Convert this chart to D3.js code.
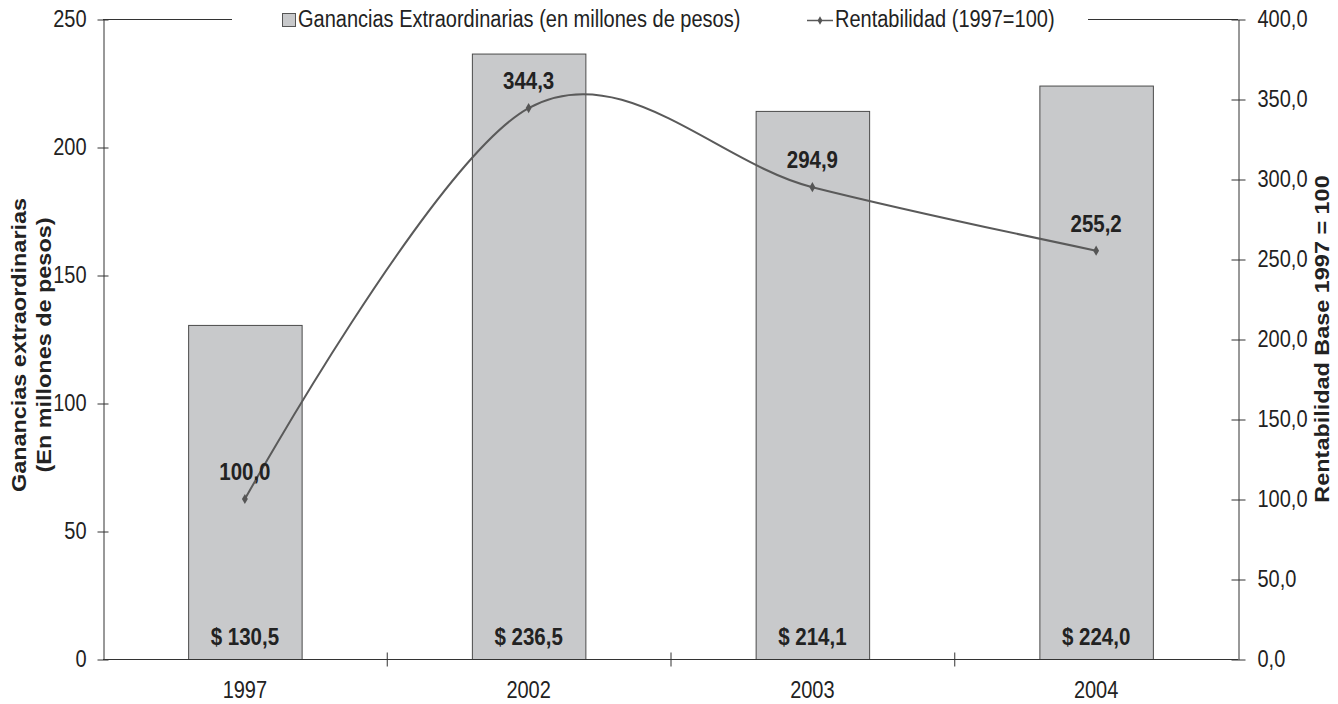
<!DOCTYPE html>
<html>
<head>
<meta charset="utf-8">
<script src="https://cdn.jsdelivr.net/npm/d3@7"></script>
<style>
  html, body { margin: 0; padding: 0; background: #fff; }
  svg { display: block; font-family: "Liberation Sans", Arial, sans-serif; }
</style>
</head>
<body>
<svg id="chart" width="1338" height="704"></svg>
<script>
// Years on the category axis
const years = ["1997", "2002", "2003", "2004"];
// Extraordinary profits, millions of pesos (bars, left axis)
const ganancias = [130.5, 236.5, 214.1, 224.0];
// Profitability index, 1997 = 100 (line, right axis)
const rentabilidad = [100.0, 344.3, 294.9, 255.2];
// Axis ticks
const leftTicks = [0, 50, 100, 150, 200, 250];
const rightTicks = [0, 50, 100, 150, 200, 250, 300, 350, 400];

const fmt1 = d3.format(".1f");
const comma = v => fmt1(v).replace(".", ",");

// Text is set slightly tall and narrow
const STRETCH = 1.15;
const TEXT = "#222";

const svg = d3.select("#chart");
const m = { left: 103, right: 1238, top: 19, bottom: 659 };

const x = d3.scaleBand().domain(years).range([m.left, m.right]).paddingInner(0.6).paddingOuter(0.3);
const xBand = d3.scaleBand().domain(years).range([m.left, m.right]);
const cx = d => xBand(d) + xBand.bandwidth() / 2;
const yL = d3.scaleLinear().domain([0, 250]).range([m.bottom, m.top]);
const yR = d3.scaleLinear().domain([0, 400]).range([m.bottom, m.top]);

function label(sel, px, py) {
  return sel.attr("x", 0).attr("y", 0)
    .attr("transform", (d, i) => `translate(${typeof px === "function" ? px(d, i) : px},${typeof py === "function" ? py(d, i) : py}) scale(1,${STRETCH})`);
}

// Top frame line of the plot area
svg.append("line")
  .attr("x1", m.left).attr("x2", m.right)
  .attr("y1", m.top + 0.5).attr("y2", m.top + 0.5)
  .attr("stroke", "#333").attr("stroke-width", 1);

// Bars
svg.append("g").selectAll("rect").data(years).join("rect")
  .attr("x", d => x(d) + 0.5)
  .attr("y", (d, i) => yL(ganancias[i]) + 0.5)
  .attr("width", x.bandwidth())
  .attr("height", (d, i) => yL(0) - yL(ganancias[i]))
  .attr("fill", "#c8c9cb")
  .attr("stroke", "#4a4a4a")
  .attr("stroke-width", 1);

// Bar value labels near the base
label(svg.append("g").selectAll("text").data(years).join("text"), cx, yL(0) - 14)
  .attr("text-anchor", "middle")
  .attr("font-size", 20.5).attr("font-weight", "bold").attr("fill", TEXT)
  .text((d, i) => "$ " + comma(ganancias[i]));

// Left axis
const axL = d3.axisLeft(yL).tickValues(leftTicks).tickSizeOuter(0).tickPadding(11).tickFormat(d3.format("d"));
const gL = svg.append("g").attr("transform", `translate(${m.left + 0.5},0.5)`).call(axL);
gL.selectAll(".tick line").attr("x1", 5).attr("x2", -6);

// Right axis
const axR = d3.axisRight(yR).tickValues(rightTicks).tickSizeOuter(0).tickPadding(13).tickFormat(comma);
const gR = svg.append("g").attr("transform", `translate(${m.right + 0.5},0.5)`).call(axR);
gR.selectAll(".tick line").attr("x1", -7).attr("x2", 7);

[gL, gR].forEach(g => {
  g.select(".domain").attr("stroke", "#333");
  g.selectAll(".tick line").attr("stroke", "#333");
  g.selectAll(".tick text")
    .attr("font-size", 20).attr("fill", TEXT)
    .attr("font-family", "Liberation Sans, Arial, sans-serif")
    .attr("transform", `scale(1,${STRETCH})`)
    .attr("dy", "0.3em");
});

// Bottom axis with separators between categories
const gB = svg.append("g").attr("transform", `translate(0,${m.bottom + 0.5})`);
gB.append("line").attr("x1", m.left).attr("x2", m.right).attr("stroke", "#333");
gB.selectAll("line.sep").data(years.slice(1)).join("line")
  .attr("class", "sep")
  .attr("x1", d => xBand(d) + 0.5).attr("x2", d => xBand(d) + 0.5)
  .attr("y1", -7).attr("y2", 7).attr("stroke", "#333");
label(gB.selectAll("text").data(years).join("text"), cx, 38)
  .attr("text-anchor", "middle")
  .attr("font-size", 20).attr("fill", TEXT)
  .text(d => d);

// Smoothed profitability line
const pts = years.map((d, i) => [cx(d), yR(rentabilidad[i])]);
svg.append("path")
  .attr("d", d3.line().curve(d3.curveCardinal.tension(0))(pts))
  .attr("fill", "none").attr("stroke", "#5a5a5a").attr("stroke-width", 2);
svg.append("g").selectAll("path").data(pts).join("path")
  .attr("transform", p => `translate(${p[0]},${p[1]})`)
  .attr("d", d3.symbol(d3.symbolDiamond, 30))
  .attr("fill", "#555");

// Line value labels
label(svg.append("g").selectAll("text").data(years).join("text"), cx, (d, i) => yR(rentabilidad[i]) - 19)
  .attr("text-anchor", "middle")
  .attr("font-size", 20.5).attr("font-weight", "bold").attr("fill", TEXT)
  .text((d, i) => comma(rentabilidad[i]));

// Legend on a white strip over the top frame
const lg = svg.append("g");
lg.append("rect").attr("x", 232).attr("y", 4).attr("width", 856).attr("height", 30).attr("fill", "#fff");
lg.append("rect").attr("x", 282.5).attr("y", 13.5).attr("width", 13).attr("height", 13)
  .attr("fill", "#c8c9cb").attr("stroke", "#555");
label(lg.append("text"), 298, 27).attr("font-size", 20).attr("fill", TEXT)
  .text("Ganancias Extraordinarias (en millones de pesos)");
lg.append("line").attr("x1", 807).attr("x2", 833).attr("y1", 20.5).attr("y2", 20.5)
  .attr("stroke", "#5a5a5a").attr("stroke-width", 1.5);
lg.append("path").attr("transform", "translate(820,20.5)").attr("d", d3.symbol(d3.symbolDiamond, 20)).attr("fill", "#555");
label(lg.append("text"), 835, 27).attr("font-size", 20).attr("fill", TEXT)
  .text("Rentabilidad (1997=100)");

// Axis titles
const vtitle = (tx, ty, txt) => svg.append("text")
  .attr("transform", `translate(${tx},${ty}) rotate(-90) scale(${STRETCH * 0.97},1)`)
  .attr("text-anchor", "middle").attr("font-size", 21).attr("font-weight", "bold").attr("fill", TEXT)
  .text(txt);
vtitle(25.5, 345, "Ganancias extraordinarias");
vtitle(50.5, 345, "(En millones de pesos)");
vtitle(1329, 339, "Rentabilidad Base 1997 = 100");
</script>
</body>
</html>
